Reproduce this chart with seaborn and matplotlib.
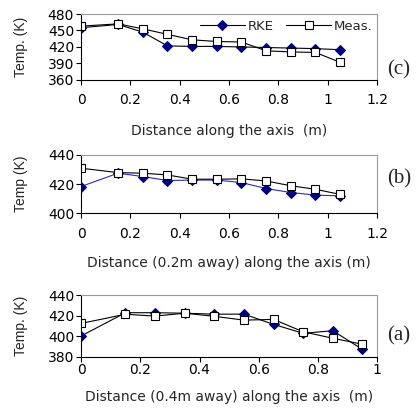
import matplotlib
matplotlib.use("Agg")
import matplotlib.pyplot as plt
import seaborn as sns

sns.set_style("white")
plt.rcParams["font.family"] = ["DejaVu Sans"]

# panel (c): along the axis
x_c = [0, 0.15, 0.25, 0.35, 0.45, 0.55, 0.65, 0.75, 0.85, 0.95, 1.05]
rke_c = [455, 461, 447, 422, 421, 421, 420, 419, 418, 417, 415]
meas_c = [458, 462, 453, 443, 433, 430, 429, 413, 411, 410, 392]

# panel (b): 0.2 m away
x_b = [0, 0.15, 0.25, 0.35, 0.45, 0.55, 0.65, 0.75, 0.85, 0.95, 1.05]
rke_b = [418.4, 427.5, 425.2, 422.5, 422.8, 422.8, 421.1, 417.0, 414.3, 412.5, 412.0]
meas_b = [430.9, 427.9, 427.5, 426.3, 423.4, 423.4, 423.6, 422.2, 418.9, 416.5, 413.0]

# panel (a): 0.4 m away
x_a = [0, 0.15, 0.25, 0.35, 0.45, 0.55, 0.65, 0.75, 0.85, 0.95]
rke_a = [400.4, 423.0, 423.0, 422.5, 421.6, 421.6, 411.7, 403.0, 405.5, 387.5]
meas_a = [412.6, 421.5, 419.7, 422.5, 419.5, 415.8, 416.5, 404.5, 398.2, 392.4]

navy = "#000080"

fig = plt.figure(figsize=(4.2, 4.12), dpi=100)


def panel(rect, x, rke, meas, ylim, yticks, xlim, xticks, ylabel, xlabel, tag, tag_y,
          xpad, labelpad, rke_line="black"):
    ax = fig.add_axes(rect)
    sns.lineplot(x=x, y=rke, ax=ax, color=rke_line, lw=0.8, marker="D", markersize=5.5,
                 markerfacecolor=navy, markeredgecolor=navy, label="RKE", legend=False)
    sns.lineplot(x=x, y=meas, ax=ax, color="black", lw=0.8, marker="s", markersize=5.5,
                 markerfacecolor="white", markeredgecolor="black", markeredgewidth=0.8,
                 label="Meas.", legend=False)
    ax.set_xlim(xlim)
    ax.set_ylim(ylim)
    ax.set_xticks(xticks)
    ax.set_xticklabels([("%g" % t) for t in xticks])
    ax.set_yticks(yticks)
    ax.tick_params(axis="both", direction="out", length=3.5, width=0.8, labelsize=10,
                   bottom=True, left=True, colors="black")
    ax.tick_params(axis="x", pad=xpad)
    ax.tick_params(axis="y", pad=1.5)
    for s in ["top", "right"]:
        ax.spines[s].set_color("#999999")
        ax.spines[s].set_linewidth(0.8)
    for s in ["left", "bottom"]:
        ax.spines[s].set_color("black")
        ax.spines[s].set_linewidth(0.8)
    ax.set_ylabel(ylabel, fontsize=10, family="Liberation Sans", labelpad=14)
    ax.set_xlabel(xlabel, fontsize=10, labelpad=labelpad)
    ax.text(1.035, tag_y, tag, transform=ax.transAxes, fontsize=15,
            family="Liberation Serif", va="center", ha="left")
    return ax


ax_c = panel([0.193, 0.806, 0.705, 0.160], x_c, rke_c, meas_c, (360, 480),
             [360, 390, 420, 450, 480], (0, 1.2), [0, 0.2, 0.4, 0.6, 0.8, 1, 1.2],
             "Temp. (K)", "Distance along the axis  (m)", "(c)", 0.16, 6, 12)
ax_c.legend(loc="center right", ncol=2, frameon=False, fontsize=9.5, handlelength=3.4,
            columnspacing=1.0, handletextpad=0.2, bbox_to_anchor=(0.985, 0.81),
            borderaxespad=0, borderpad=0)

panel([0.193, 0.482, 0.705, 0.142], x_b, rke_b, meas_b, (400, 440),
      [400, 420, 440], (0, 1.2), [0, 0.2, 0.4, 0.6, 0.8, 1, 1.2],
      "Temp (K)", "Distance (0.2m away) along the axis (m)", "(b)", 0.59, 6, 11,
      rke_line="#2b2bb8")

panel([0.193, 0.1335, 0.705, 0.150], x_a, rke_a, meas_a, (380, 440),
      [380, 400, 420, 440], (0, 1), [0, 0.2, 0.4, 0.6, 0.8, 1],
      "Temp. (K)", "Distance (0.4m away) along the axis  (m)", "(a)", 0.34, 1, 9)

fig.savefig("out.png", dpi=100)
